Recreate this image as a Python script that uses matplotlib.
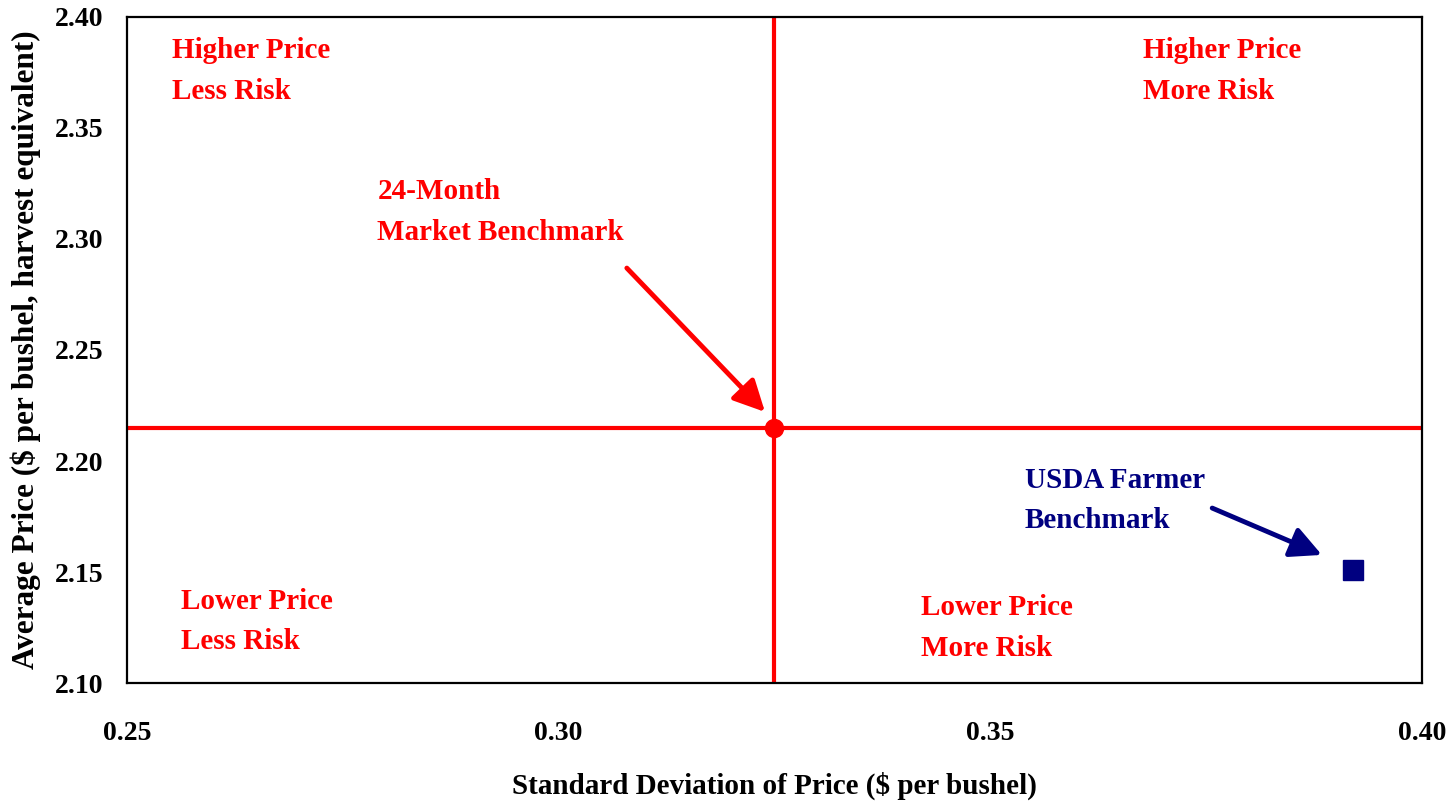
import matplotlib.pyplot as plt

plt.rcParams['font.family'] = ['Liberation Serif', 'DejaVu Serif']
plt.rcParams['font.weight'] = 'bold'

# benchmark points: (std dev of price, average price)
market_benchmark = (0.325, 2.215)
usda_benchmark = (0.392, 2.151)

x_ticks = [0.25, 0.30, 0.35, 0.40]
y_ticks = [2.10, 2.15, 2.20, 2.25, 2.30, 2.35, 2.40]

quadrant_labels = [
    ('Higher Price\nLess Risk', 0.2552, 2.391),
    ('Higher Price\nMore Risk', 0.3677, 2.391),
    ('Lower Price\nLess Risk', 0.2563, 2.143),
    ('Lower Price\nMore Risk', 0.3420, 2.140),
]

RED = '#ff0000'
NAVY = '#000080'
FS = 21

fig = plt.figure(figsize=(14.54, 8.01), dpi=100)
ax = fig.add_axes([0.0873, 0.1473, 0.8907, 0.8315])

ax.set_xlim(x_ticks[0], x_ticks[-1])
ax.set_ylim(y_ticks[0], y_ticks[-1])

# quadrant split through the market benchmark
ax.axvline(market_benchmark[0], color=RED, lw=3, zorder=2)
ax.axhline(market_benchmark[1], color=RED, lw=3, zorder=2)

ax.plot(*market_benchmark, 'o', color=RED, markersize=13, zorder=3)
ax.plot(*usda_benchmark, 's', color=NAVY, markersize=14, zorder=3)

for text, x, y in quadrant_labels:
    ax.text(x, y, text, color=RED, fontsize=FS, fontweight='bold',
            va='top', ha='left', linespacing=1.65)

arrow_style = '-|>,head_length=0.7,head_width=0.35'

ax.text(0.2790, 2.3275, '24-Month\nMarket Benchmark', color=RED, fontsize=FS,
        fontweight='bold', va='top', ha='left', linespacing=1.65)
ax.annotate('', xy=(0.3239, 2.2221), xytext=(0.3079, 2.2869),
            arrowprops=dict(arrowstyle=arrow_style, color=RED, lw=3.5,
                            mutation_scale=27, shrinkA=0, shrinkB=0))

ax.text(0.3540, 2.1975, 'USDA Farmer\nBenchmark', color=NAVY, fontsize=FS,
        fontweight='bold', va='top', ha='left', linespacing=1.65)
ax.annotate('', xy=(0.3884, 2.1577), xytext=(0.3757, 2.1788),
            arrowprops=dict(arrowstyle=arrow_style, color=NAVY, lw=3.5,
                            mutation_scale=27, shrinkA=0, shrinkB=0))

ax.set_xticks(x_ticks)
ax.set_xticklabels([f'{v:.2f}' for v in x_ticks])
ax.set_yticks(y_ticks)
ax.set_yticklabels([f'{v:.2f}' for v in y_ticks])
ax.tick_params(axis='both', length=0, labelsize=20)
ax.tick_params(axis='x', pad=27)
ax.tick_params(axis='y', pad=17)

for spine in ax.spines.values():
    spine.set_linewidth(1.6)

ax.set_xlabel('Standard Deviation of Price ($ per bushel)', fontsize=21,
              fontweight='bold', labelpad=19)
ax.set_ylabel('Average Price ($ per bushel, harvest equivalent)', fontsize=22.5,
              fontweight='bold', labelpad=10)

fig.savefig('out.png', dpi=100)
